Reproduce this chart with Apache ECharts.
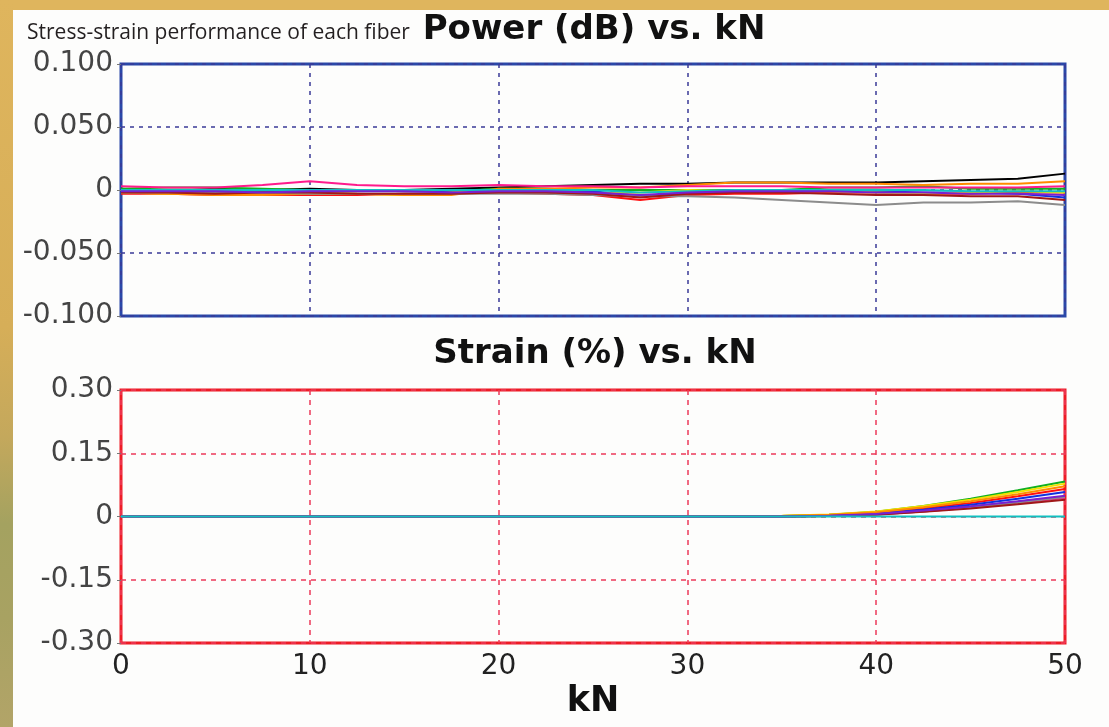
<!DOCTYPE html>
<html>
<head>
<meta charset="utf-8">
<script src="https://cdn.jsdelivr.net/npm/echarts@6/dist/echarts.min.js"></script>
<style>
  html, body { margin: 0; padding: 0; width: 1109px; height: 727px; overflow: hidden; }
  body { background: #dfb55d; position: relative; }
  #band { position: absolute; left: 0; top: 0; width: 13px; height: 727px;
    background: linear-gradient(to bottom, #dfb55d 0%, #d6ae58 45%, #c4a85c 60%, #a4a260 72%, #a8a262 85%, #b2a468 100%); }
  #panel { position: absolute; left: 13px; top: 10px; right: 0; bottom: 0; background: #fdfdfc; }
  #chart { position: absolute; left: 0; top: 0; width: 1109px; height: 727px; }
</style>
</head>
<body>
<div id="band"></div>
<div id="panel"></div>
<div id="chart"></div>
<script>
// Load steps (kN) shared by every fiber trace
const kN = [0, 2.5, 5, 7.5, 10, 12.5, 15, 17.5, 20, 22.5, 25, 27.5, 30, 32.5, 35, 37.5, 40, 42.5, 45, 47.5, 50];

// Tick labels
const powerTicks = [-0.1, -0.05, 0, 0.05, 0.1];
const strainTicks = [-0.3, -0.15, 0, 0.15, 0.3];
const kNTicks = [0, 10, 20, 30, 40, 50];

// Fiber names and trace colours
const fibers = ['F1', 'F2', 'F3', 'F4', 'F5', 'F6', 'F7', 'F8', 'F9', 'F10', 'F11'];
const colors = ['#000000', '#ff1010', '#10b020', '#1030e0', '#f2e200', '#ff8a00', '#ff1a8c', '#10c0c0', '#8c8c8c', '#a01818', '#7a20d0'];

// Optical power change (dB) per fiber
const power = [
  [0.001, -0.001, 0.001, 0.000, 0.001, 0.000, 0.000, 0.001, 0.002, 0.003, 0.004, 0.005, 0.005, 0.006, 0.006, 0.006, 0.006, 0.007, 0.008, 0.009, 0.013],
  [-0.003, -0.003, -0.004, -0.004, -0.004, -0.004, -0.003, -0.003, -0.002, -0.003, -0.004, -0.008, -0.004, -0.003, -0.003, -0.002, -0.002, -0.003, -0.003, -0.002, -0.002],
  [0.001, 0.002, 0.002, 0.001, 0.000, 0.000, 0.000, -0.001, 0.001, 0.001, 0.000, 0.000, 0.000, 0.000, 0.000, 0.002, 0.002, 0.003, 0.001, 0.001, 0.001],
  [0.000, -0.001, -0.001, -0.001, 0.000, 0.000, -0.001, -0.001, 0.000, 0.000, -0.001, -0.005, -0.002, 0.000, 0.000, 0.000, -0.001, -0.002, -0.002, -0.003, -0.006],
  [-0.002, -0.003, -0.003, -0.003, -0.001, -0.003, -0.004, -0.002, 0.000, -0.001, -0.003, -0.002, 0.000, -0.001, -0.001, -0.001, -0.002, -0.003, -0.002, -0.001, -0.002],
  [-0.002, -0.003, -0.004, -0.004, -0.003, -0.003, -0.004, -0.004, 0.001, 0.001, 0.002, 0.002, 0.004, 0.006, 0.006, 0.005, 0.005, 0.004, 0.005, 0.005, 0.007],
  [0.003, 0.002, 0.002, 0.004, 0.007, 0.004, 0.003, 0.003, 0.004, 0.003, 0.003, 0.002, 0.003, 0.003, 0.003, 0.002, 0.002, 0.002, 0.002, 0.002, 0.003],
  [0.000, 0.000, 0.000, 0.000, 0.000, 0.000, 0.000, 0.000, 0.000, 0.000, 0.000, -0.002, -0.001, 0.000, 0.000, 0.000, 0.000, 0.000, -0.001, -0.001, -0.001],
  [-0.002, -0.002, -0.002, -0.002, -0.003, -0.003, -0.003, -0.003, -0.003, -0.003, -0.004, -0.005, -0.005, -0.006, -0.008, -0.010, -0.012, -0.010, -0.010, -0.009, -0.012],
  [-0.002, -0.002, -0.003, -0.002, -0.002, -0.003, -0.003, -0.003, -0.002, -0.002, -0.003, -0.006, -0.003, -0.002, -0.002, -0.003, -0.004, -0.004, -0.005, -0.005, -0.008],
  [-0.001, -0.001, -0.001, -0.002, -0.001, -0.001, -0.001, -0.002, -0.001, -0.001, -0.002, -0.004, -0.002, -0.001, -0.001, -0.001, -0.002, -0.002, -0.003, -0.003, -0.004]
];

// Strain (%) per fiber
const strain = [
  [0, 0, 0, 0, 0, 0, 0, 0, 0, 0, 0, 0, 0, 0, 0, 0.002, 0.006, 0.013, 0.023, 0.035, 0.047],
  [0, 0, 0, 0, 0, 0, 0, 0, 0, 0, 0, 0, 0, 0, 0.001, 0.003, 0.009, 0.019, 0.032, 0.048, 0.065],
  [0, 0, 0, 0, 0, 0, 0, 0, 0, 0, 0, 0, 0, 0, 0.001, 0.004, 0.011, 0.025, 0.042, 0.062, 0.083],
  [0, 0, 0, 0, 0, 0, 0, 0, 0, 0, 0, 0, 0, 0, 0, 0.002, 0.007, 0.016, 0.028, 0.042, 0.058],
  [0, 0, 0, 0, 0, 0, 0, 0, 0, 0, 0, 0, 0.001, 0.001, 0.002, 0.005, 0.012, 0.025, 0.040, 0.058, 0.078],
  [0, 0, 0, 0, 0, 0, 0, 0, 0, 0, 0, 0, 0, 0.001, 0.001, 0.004, 0.010, 0.022, 0.036, 0.053, 0.072],
  [0, 0, 0, 0, 0, 0, 0, 0, 0, 0, 0, 0, 0, 0, 0, 0.001, 0.005, 0.012, 0.021, 0.032, 0.044],
  [0, 0, 0, 0, 0, 0, 0, 0, 0, 0, 0, 0, 0, 0, 0, 0, 0, 0, 0, 0, 0],
  [0, 0, 0, 0, 0, 0, 0, 0, 0, 0, 0, 0, 0, 0, 0, 0.001, 0.005, 0.012, 0.022, 0.033, 0.046],
  [0, 0, 0, 0, 0, 0, 0, 0, 0, 0, 0, 0, 0, 0, 0, 0.001, 0.004, 0.011, 0.019, 0.029, 0.040],
  [0, 0, 0, 0, 0, 0, 0, 0, 0, 0, 0, 0, 0, 0, 0, 0.002, 0.006, 0.014, 0.024, 0.036, 0.049]
];

const tickFont = { fontFamily: 'DejaVu Sans, sans-serif', fontSize: 28 };
const boldFont = { fontFamily: 'DejaVu Sans, sans-serif', fontWeight: 'bold', color: '#111' };

function yAxis(gridIndex, ticks, decimals, gridColor, dash) {
  return {
    type: 'value', gridIndex: gridIndex,
    min: ticks[0], max: ticks[ticks.length - 1], interval: ticks[1] - ticks[0],
    axisLine: { show: false },
    axisTick: { show: true, length: 4, lineStyle: { color: '#777' } },
    axisLabel: Object.assign({ margin: 8, color: '#444', formatter: v => (Math.abs(v) < 1e-9 ? '0' : v.toFixed(decimals)) }, tickFont),
    splitLine: { show: true, lineStyle: { color: gridColor, type: dash, width: 1.5 } }
  };
}

function xAxis(gridIndex, gridColor, dash, showLabels) {
  return {
    type: 'value', gridIndex: gridIndex,
    min: kNTicks[0], max: kNTicks[kNTicks.length - 1], interval: kNTicks[1] - kNTicks[0],
    axisLine: { show: false },
    axisTick: { show: false },
    axisLabel: Object.assign({ show: showLabels, margin: 10, color: '#222' }, tickFont),
    splitLine: { show: true, lineStyle: { color: gridColor, type: dash, width: 1.5 } },
    name: showLabels ? 'kN' : '',
    nameLocation: 'middle', nameGap: 41,
    nameTextStyle: Object.assign({ fontSize: 35 }, boldFont)
  };
}

const series = [];
fibers.forEach((name, i) => {
  series.push({
    name: name, type: 'line', xAxisIndex: 0, yAxisIndex: 0, showSymbol: false, animation: false,
    lineStyle: { width: 2, color: colors[i] }, itemStyle: { color: colors[i] },
    data: kN.map((x, j) => [x, power[i][j]])
  });
  series.push({
    name: name, type: 'line', xAxisIndex: 1, yAxisIndex: 1, showSymbol: false, animation: false,
    lineStyle: { width: 2, color: colors[i] }, itemStyle: { color: colors[i] },
    z: name === 'F8' ? 3 : 2,
    data: kN.map((x, j) => [x, strain[i][j]])
  });
});

const chart = echarts.init(document.getElementById('chart'), null, { renderer: 'canvas' });
chart.setOption({
  backgroundColor: 'transparent',
  animation: false,
  title: [
    { text: 'Stress-strain performance of each fiber', left: 27, top: 23, padding: 0,
      textStyle: { fontFamily: 'Open Sans, sans-serif', fontSize: 21, fontWeight: 'normal', color: '#231f20' } },
    { text: 'Power (dB) vs. kN', left: 594, top: 13, padding: 0, textAlign: 'center',
      textStyle: Object.assign({ fontSize: 34 }, boldFont) },
    { text: 'Strain (%) vs. kN', left: 595, top: 337, padding: 0, textAlign: 'center',
      textStyle: Object.assign({ fontSize: 34 }, boldFont) }
  ],
  grid: [
    { left: 121, top: 64, width: 944, height: 252, show: true, borderColor: '#2a48a8', borderWidth: 3, backgroundColor: 'transparent' },
    { left: 121, top: 390, width: 944, height: 253, show: true, borderColor: '#ee1c24', borderWidth: 3, backgroundColor: 'transparent' }
  ],
  xAxis: [
    xAxis(0, '#3a3a96', [4, 5], false),
    xAxis(1, '#ec3a5a', [5, 5], true)
  ],
  yAxis: [
    yAxis(0, powerTicks, 3, '#3a3a96', [4, 5]),
    yAxis(1, strainTicks, 2, '#ec3a5a', [5, 5])
  ],
  series: series
});
</script>
</body>
</html>
